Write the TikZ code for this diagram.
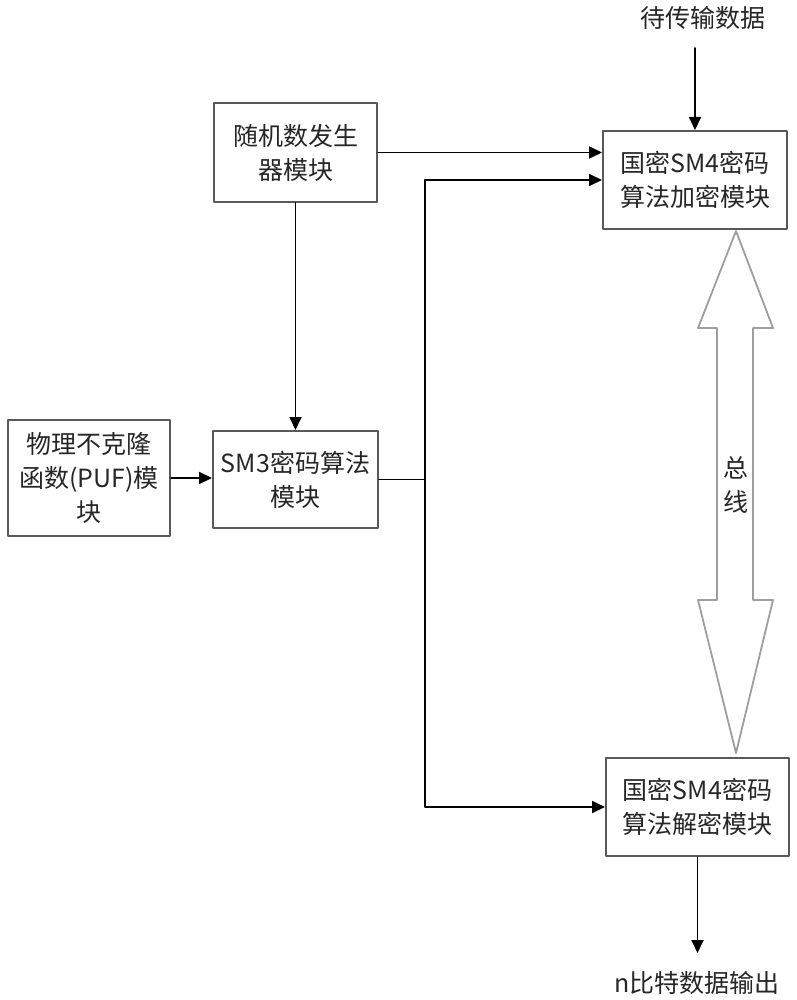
\documentclass[tikz,border=0pt]{standalone}
\usepackage{fontspec}
\newfontfamily\cjk{Noto Sans CJK SC}
\usetikzlibrary{arrows.meta}
\definecolor{boxgray}{rgb}{0.35,0.35,0.35}
\definecolor{busgray}{rgb}{0.62,0.62,0.62}

\begin{document}
\begin{tikzpicture}[x=1pt,y=-1pt,line cap=round,line join=round,
	box/.style={draw=boxgray,line width=2pt,align=center,inner sep=0pt,
		font=\cjk\fontsize{25}{34}\selectfont,text=black!85},
	lbl/.style={inner sep=0pt,font=\cjk\fontsize{25}{34}\selectfont,text=black!85},
	arr/.style={line width=1.8pt,-{Triangle[length=13pt,width=12pt]}}]
	\useasboundingbox (0,0) rectangle (796,1000);
	% blocks
	\node[box,minimum width=163pt,minimum height=99pt] (rng) at (295.5,152.5) {随机数发生\\器模块};
	\node[box,minimum width=162pt,minimum height=116pt] (puf) at (89,478) {物理不克隆\\函数(PUF)模\\块};
	\node[box,minimum width=165pt,minimum height=97pt] (sm3) at (295.5,479.5) {SM3密码算法\\模块};
	\node[box,minimum width=184pt,minimum height=98pt] (enc) at (695,180) {国密SM4密码\\算法加密模块};
	\node[box,minimum width=183pt,minimum height=98pt] (dec) at (697.5,807) {国密SM4密码\\算法解密模块};
	\node[lbl] (txtin) at (703,18) {待传输数据};
	\node[lbl] (txtout) at (697,983) {n比特数据输出};
	\coordinate (jn) at (425,479.5);
	\coordinate (inlet) at (695,48);
	% bus
	\draw[busgray,line width=1.8pt,fill=white] (736,231) -- (773,328) -- (753,328) -- (753,600)
		-- (773,600) -- (736,753) -- (698,600) -- (717,600) -- (717,328) -- (698,328) -- cycle;
	\node[lbl,align=center] (bus) at (736,485) {总\\线};
	% connectors
	\draw[arr] (inlet) -- (enc.north);
	\draw[arr] (rng.east) -- (rng.east -| enc.west);
	\draw[arr] (rng.south) -- (sm3.north);
	\draw[arr] (puf.east) -- (puf.east -| sm3.west);
	\draw[line width=1.8pt] (sm3.east) -- (jn);
	\draw[arr] (jn) |- (enc.west);
	\draw[arr] (jn) |- (dec.west);
	\draw[arr] (dec.south) -- (dec.south |- 0,953);
\end{tikzpicture}
\end{document}
